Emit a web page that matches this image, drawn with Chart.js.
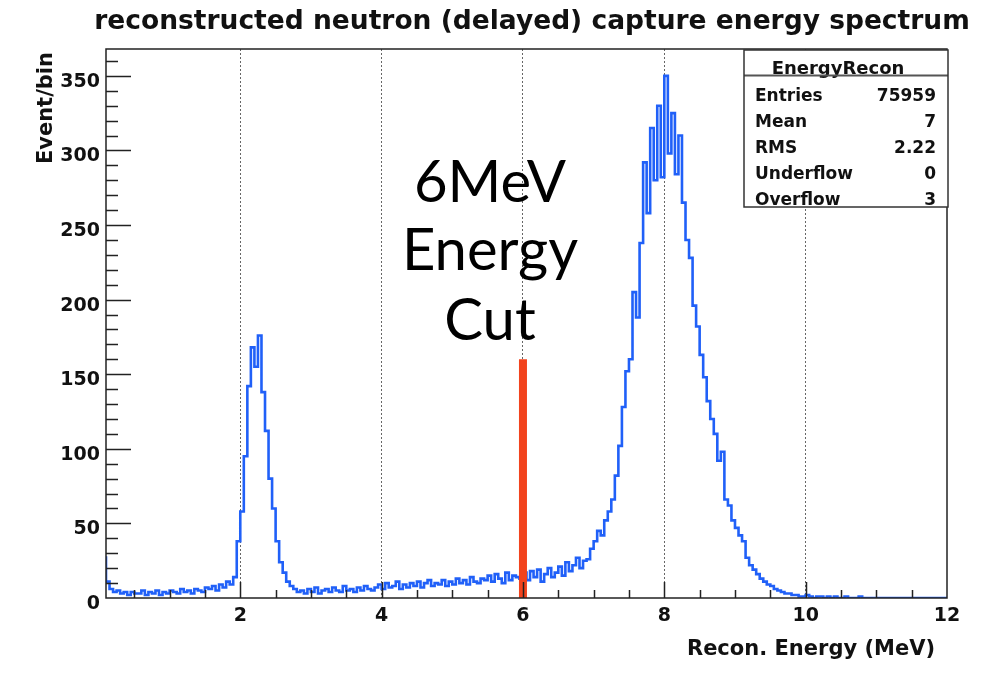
<!DOCTYPE html>
<html>
<head>
<meta charset="utf-8">
<script src="https://cdn.jsdelivr.net/npm/chart.js@4.4.0/dist/chart.umd.min.js"></script>
<style>
  html, body { margin: 0; padding: 0; background: #fff; }
  #wrap { width: 985px; height: 677px; }
</style>
</head>
<body>
<div id="wrap"><canvas id="spectrum" width="985" height="677"></canvas></div>
<script>
// ── Data ────────────────────────────────────────────────────────────
const BIN_LOW   = 0.1;   // MeV, left edge of first bin
const BIN_WIDTH = 0.05;  // MeV

// events per bin, 10 bins (0.5 MeV) per row, starting at 0.10 MeV
const COUNTS = [
  28, 11,  6,  4,  5,  3,  4,  2,  4,  3,
   3,  5,  2,  4,  3,  5,  2,  4,  3,  5,
   4,  3,  6,  4,  5,  3,  6,  5,  4,  7,
   6,  8,  5,  9,  7, 11,  9, 14, 38, 58,
  95,142,168,155,176,138,112, 80, 60, 38,
  24, 17, 11,  8,  6,  4,  5,  3,  6,  4,
   7,  3,  5,  6,  4,  7,  5,  4,  8,  5,
   6,  4,  7,  5,  8,  6,  5,  7,  9,  6,
  10,  7,  8, 11,  6,  9,  7, 10,  8, 11,
   7, 10, 12,  8, 10,  9, 12,  8, 11,  9,
  13, 10, 12,  9, 14, 11, 10, 13, 12, 15,
  11, 16, 13, 10, 17, 12, 15, 14, 13, 17,
  12, 18, 14, 19, 11, 16, 20, 14, 17, 21,
  15, 24, 18, 22, 27, 20, 25, 26, 33, 38,
  45, 42, 52, 58, 66, 82,102,128,152,160,
 205,188,238,292,258,315,280,330,282,350,
 298,325,284,310,265,240,228,196,182,163,
 148,132,120,110, 92, 98, 66, 62, 52, 47,
  42, 38, 27, 22, 19, 16, 13, 11,  9,  8,
   6,  5,  4,  3,  3,  2,  2,  1,  1,  2,
   1,  0,  1,  1,  0,  1,  0,  1,  0,  0,
   1,  0,  0,  0,  1,  0,  0,  0,  0,  0,
   0,  0,  0,  0,  0,  0,  0,  0,  0,  0,
   0,  0,  0,  0,  0,  0,  0,  0,
];

const X_LABELS = [2, 4, 6, 8, 10, 12];
const Y_LABELS = [0, 50, 100, 150, 200, 250, 300, 350];

const CUT_ENERGY = [6, 6];
const CUT_HEIGHT = [0, 160];
const CUT_TEXT   = ['6MeV', 'Energy', 'Cut'];

const STATS_TITLE  = 'EnergyRecon';
const STATS_NAMES  = ['Entries', 'Mean', 'RMS', 'Underflow', 'Overflow'];
const STATS_VALUES = ['75959', '7', '2.22', '0', '3'];

const TITLE   = 'reconstructed neutron (delayed) capture energy spectrum';
const X_TITLE = 'Recon. Energy (MeV)';
const Y_TITLE = 'Event/bin';

const FONT = "'DejaVu Sans', sans-serif";
const INK  = '#111';

// ── Histogram points (step line, one point per bin edge) ────────────
const histPoints = COUNTS.map((c, i) => ({ x: +(BIN_LOW + i * BIN_WIDTH).toFixed(2), y: c }));
histPoints.push({ x: +(BIN_LOW + COUNTS.length * BIN_WIDTH).toFixed(2), y: COUNTS[COUNTS.length - 1] });

// ── ROOT-style decorations: frame, inner ticks, stats box, texts ────
const rootDecor = {
  id: 'rootDecor',
  afterDraw(chart) {
    const { ctx, chartArea: a, scales: { x, y } } = chart;
    ctx.save();

    // frame
    ctx.strokeStyle = '#222';
    ctx.lineWidth = 1.5;
    ctx.strokeRect(a.left, a.top, a.right - a.left, a.bottom - a.top);

    // x ticks, every 0.5 MeV, pointing up
    ctx.beginPath();
    for (let k = 1; k < 24; k++) {
      const v = k * 0.5;
      const px = Math.round(x.getPixelForValue(v)) + 0.5;
      const len = k % 4 === 0 ? 16 : 8;
      ctx.moveTo(px, a.bottom);
      ctx.lineTo(px, a.bottom - len);
    }
    // y ticks, every 10, pointing right
    for (let v = 10; v <= 360; v += 10) {
      const py = Math.round(y.getPixelForValue(v)) + 0.5;
      const len = v % 50 === 0 ? 25 : 12;
      ctx.moveTo(a.left, py);
      ctx.lineTo(a.left + len, py);
    }
    ctx.stroke();

    // stats box
    const bx = 744, by = 50, bw = 204, bh = 157;
    ctx.fillStyle = '#fff';
    ctx.fillRect(bx, by, bw, bh);
    ctx.fillStyle = INK;
    ctx.font = `bold 18px ${FONT}`;
    ctx.textAlign = 'center';
    ctx.textBaseline = 'alphabetic';
    ctx.fillText(STATS_TITLE, 838, 74);
    ctx.strokeStyle = '#555';
    ctx.lineWidth = 2;
    ctx.beginPath();
    ctx.moveTo(bx, 75.5);
    ctx.lineTo(bx + bw, 75.5);
    ctx.stroke();

    ctx.font = `bold 17px ${FONT}`;
    STATS_NAMES.forEach((name, i) => {
      const base = 101 + i * 26;
      ctx.textAlign = 'left';
      ctx.fillText(name, 755, base);
      ctx.textAlign = 'right';
      ctx.fillText(STATS_VALUES[i], 936, base);
    });
    ctx.strokeStyle = '#333';
    ctx.lineWidth = 1.5;
    ctx.strokeRect(bx, by, bw, bh);

    // title
    ctx.fillStyle = INK;
    ctx.font = `bold 26.5px ${FONT}`;
    ctx.textAlign = 'center';
    ctx.fillText(TITLE, 532, 29);

    // axis titles
    ctx.font = `bold 21px ${FONT}`;
    ctx.textAlign = 'right';
    ctx.fillText(X_TITLE, 935, 655);
    ctx.save();
    ctx.translate(52, 52);
    ctx.rotate(-Math.PI / 2);
    ctx.fillText(Y_TITLE, 0, 0);
    ctx.restore();

    // energy cut annotation
    ctx.font = "58px Lato, 'Open Sans', sans-serif";
    ctx.textAlign = 'center';
    ctx.fillStyle = '#000';
    [202, 270, 340].forEach((base, i) => ctx.fillText(CUT_TEXT[i], 490, base));

    ctx.restore();
  },
};

// ── Chart ───────────────────────────────────────────────────────────
const tickFont = { family: FONT, size: 19, weight: 'bold' };

new Chart(document.getElementById('spectrum'), {
  type: 'line',
  data: {
    datasets: [
      {
        label: 'cut',
        data: CUT_ENERGY.map((e, i) => ({ x: e, y: CUT_HEIGHT[i] })),
        borderColor: '#f2431d',
        borderWidth: 8,
        borderCapStyle: 'butt',
        pointRadius: 0,
        order: 0,
      },
      {
        label: STATS_TITLE,
        data: histPoints,
        stepped: 'after',
        borderColor: '#2060f8',
        borderWidth: 2.6,
        pointRadius: 0,
        order: 1,
      },
    ],
  },
  options: {
    responsive: false,
    animation: false,
    layout: { padding: { top: 49, right: 38, left: 0, bottom: 0 } },
    plugins: {
      legend:  { display: false },
      tooltip: { enabled: false },
      title:   { display: false },
    },
    scales: {
      x: {
        type: 'linear',
        min: 0.1,
        max: 12,
        afterBuildTicks: s => { s.ticks = X_LABELS.map(v => ({ value: v })); },
        afterFit: s => { s.height = 79; },
        grid: {
          color: c => (c.tick && c.tick.value < 12 ? '#666' : 'rgba(0,0,0,0)'),
          lineWidth: 1,
          drawTicks: false,
        },
        border: { display: false, dash: [2, 2] },
        ticks: { padding: 7, color: INK, font: tickFont, maxRotation: 0, autoSkip: false },
      },
      y: {
        type: 'linear',
        min: 0,
        max: 368,
        afterBuildTicks: s => { s.ticks = Y_LABELS.map(v => ({ value: v })); },
        afterFit: s => { s.width = 106; },
        grid: { display: false, drawTicks: false },
        border: { display: false },
        ticks: { padding: 6, labelOffset: 6, color: INK, font: tickFont, autoSkip: false },
      },
    },
  },
  plugins: [rootDecor],
});
</script>
</body>
</html>
